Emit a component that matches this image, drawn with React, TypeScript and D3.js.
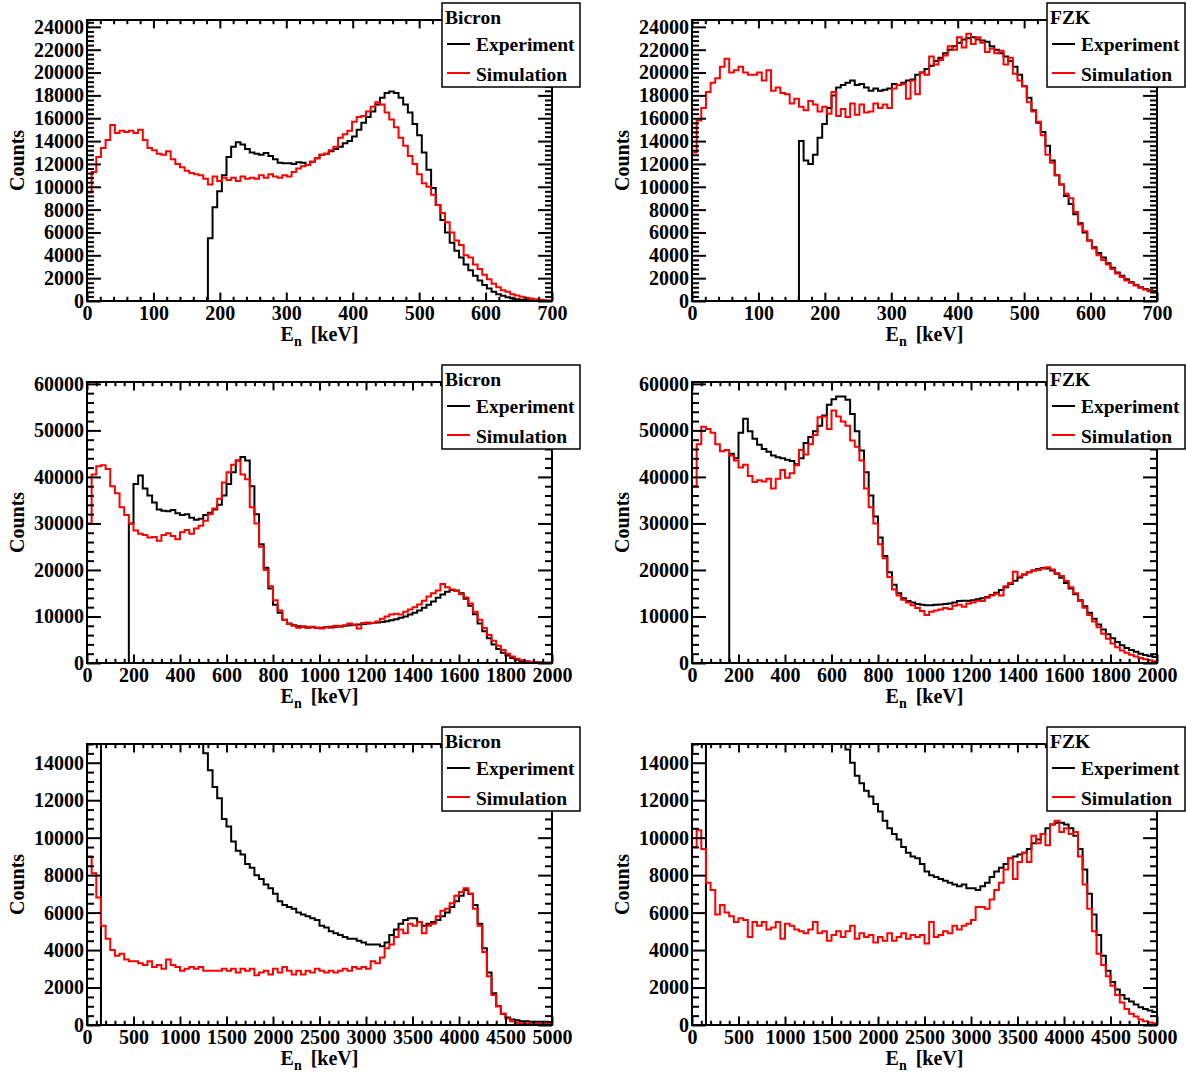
import React, { useEffect, useRef } from "react";
import * as d3 from "d3";

const WIDTH = 1186;
const HEIGHT = 1074;
const FRAME = { W: 465, H: 281 };
const COL_LEFT = [87, 692];
const ROW_TOP = [20, 382, 744];
const FONT = "'Liberation Serif', 'Times New Roman', Times, serif";

// tick labels
const xTicks700 = [0, 100, 200, 300, 400, 500, 600, 700];
const xTicks2000 = [0, 200, 400, 600, 800, 1000, 1200, 1400, 1600, 1800, 2000];
const xTicks5000 = [0, 500, 1000, 1500, 2000, 2500, 3000, 3500, 4000, 4500, 5000];
const yTicks24k = [0, 2000, 4000, 6000, 8000, 10000, 12000, 14000, 16000, 18000, 20000, 22000, 24000];
const yTicks60k = [0, 10000, 20000, 30000, 40000, 50000, 60000];
const yTicks15k = [0, 2000, 4000, 6000, 8000, 10000, 12000, 14000];

const detectors = ["Bicron", "FZK"];
const seriesLabels = ["Experiment", "Simulation"];
const seriesColors = ["#000000", "#ff0000"];

// counts per bin, 100 bins over the x range of each panel
const bicronExp700 = [
  0, 0, 0, 0, 0, 0, 0, 0, 0, 0,
  0, 0, 0, 0, 0, 0, 0, 0, 0, 0,
  0, 0, 0, 0, 0, 0, 5500, 8200, 9600, 11000,
  12600, 13500, 13900, 13700, 13300, 13000, 12900, 12800, 12950, 12700,
  12400, 12100, 12050, 12050, 12000, 12150, 12100, 11900, 12200, 12500,
  12800, 12900, 13100, 13300, 13500, 13800, 14000, 14400, 15000, 15600,
  16100, 16600, 17200, 17800, 18200, 18350, 18200, 17800, 17200, 16500,
  15500, 14500, 13000, 11500, 9900, 8400, 7100, 6000, 5100, 4400,
  3800, 3200, 2700, 2200, 1800, 1400, 1100, 800, 600, 450,
  330, 230, 160, 110, 80, 55, 40, 25, 15, 10,
];
const bicronSim700 = [
  9500, 11300, 12600, 13400, 14100, 15400, 14700, 14900, 14800, 14900,
  14700, 15000, 14100, 13400, 13200, 12900, 12800, 13100, 12400, 12000,
  11700, 11400, 11200, 11100, 11000, 10700, 10200, 10900, 10500, 10800,
  10600, 10800, 10500, 10900, 10700, 10800, 10700, 11000, 10800, 11100,
  10900, 10800, 11000, 10900, 11300, 11600, 11800, 11900, 12200, 12500,
  12800, 12900, 13200, 13500, 14300, 14600, 14900, 15700, 16100, 16200,
  16600, 17000, 17400, 17200, 16500, 15900, 15200, 14300, 13600, 12700,
  12000, 11100, 10300, 10000, 9300, 8400, 7700, 6900, 6000, 5300,
  4900, 4000, 3800, 3200, 2800, 2300, 1900, 1500, 1200, 950,
  800, 600, 480, 380, 280, 220, 160, 110, 70, 50,
];
const fzkExp700 = [
  0, 0, 0, 0, 0, 0, 0, 0, 0, 0,
  0, 0, 0, 0, 0, 0, 0, 0, 0, 0,
  0, 0, 0, 14000, 12300, 12000, 12800, 14300, 15500, 16900,
  18000, 18700, 18900, 19100, 19300, 18900, 19000, 18700, 18400, 18600,
  18400, 18500, 18600, 19000, 18900, 19100, 19300, 19400, 19800, 20000,
  20300, 20600, 21000, 21300, 21700, 22000, 22300, 22600, 22900, 23000,
  23100, 22900, 22800, 22700, 22300, 22000, 21700, 21400, 21000, 20500,
  19800, 18800, 17800, 16700, 15600, 14800, 13600, 12300, 11000, 10200,
  9200, 8500, 7600, 6800, 6000, 5300, 4700, 4200, 3800, 3300,
  2900, 2500, 2200, 1900, 1650, 1400, 1200, 1050, 950, 880,
];
const fzkSim700 = [
  13000, 15800, 16900, 18300, 19100, 19500, 20500, 21200, 20000, 20200,
  20500, 20000, 19800, 19800, 20000, 19300, 20200, 18400, 18700, 18200,
  18100, 17300, 17700, 17000, 16700, 17500, 17200, 16600, 17000, 16400,
  18300, 16200, 16800, 16100, 17300, 16300, 17200, 16500, 16600, 17300,
  16900, 17200, 16900, 18600, 18900, 19000, 17700, 19300, 18100, 20000,
  19800, 21400, 20700, 21100, 21500, 22300, 22000, 23100, 22200, 23400,
  22500, 23100, 22600, 21800, 22100, 21700, 21900, 20700, 21300, 19900,
  19300, 18800, 17400, 16600, 15700, 14500, 12800, 12100, 11000, 10200,
  9400, 9000, 7800, 6700, 6100, 5300, 4600, 4000, 3600, 3200,
  2800, 2400, 2100, 1800, 1600, 1350, 1150, 1000, 850, 750,
];
const bicronExp2000 = [
  0, 0, 0, 0, 0, 0, 0, 0, 0, 30000,
  38500, 40300, 37500, 36000, 34500, 33000, 32700, 32600, 32900, 32200,
  31800, 32000, 31200, 30800, 31000, 31800, 32300, 33000, 34000, 36000,
  38500, 41000, 43500, 44300, 43500, 38000, 32000, 25500, 20500, 16000,
  12500, 10800, 9300, 8500, 8100, 7900, 7800, 7700, 7700, 7600,
  7600, 7700, 7800, 7800, 7900, 8000, 8100, 8200, 8300, 8400,
  8500, 8600, 8700, 8800, 9000, 9200, 9400, 9700, 10000, 10400,
  10800, 11300, 11900, 12500, 13200, 14000, 14700, 15300, 15700, 15600,
  15000, 13800, 12300, 10500, 8500, 6800, 5300, 4000, 3000, 2200,
  1600, 1100, 700, 450, 300, 200, 130, 90, 60, 40,
];
const bicronSim2000 = [
  30000, 40500, 42300, 42500, 41700, 38000, 36500, 33500, 31800, 30000,
  28500, 27800, 27500, 27000, 27100, 26300, 27500, 27900, 27300, 26600,
  28100, 28600, 27800, 28900, 29500, 30600, 32000, 33200, 35300, 38800,
  41000, 42600, 43500, 40500, 39500, 33500, 30000, 25000, 20000, 16500,
  13500, 11300, 9300, 8400, 8000, 7600, 7900, 7500, 7800, 7600,
  7400, 7700, 7600, 8000, 7800, 8100, 8500, 8200, 7400, 8600,
  8700, 8600, 8900, 9500, 10000, 10400, 10600, 10400, 11000, 11500,
  12000, 12600, 13400, 14300, 15000, 15600, 17000, 16300, 15800, 15500,
  14800, 14100, 12800, 11000, 9300, 7500, 6000, 4800, 3700, 2800,
  2000, 1400, 900, 600, 400, 250, 150, 100, 60, 30,
];
const fzkExp2000 = [
  0, 0, 0, 0, 0, 0, 0, 0, 45000, 44000,
  49500, 52500, 49800, 48200, 46900, 46000, 45400, 44600, 44200, 44000,
  43700, 43400, 42700, 44000, 47300, 48600, 49800, 51000, 53200, 55500,
  56700, 57300, 57300, 56600, 53500, 49800, 45700, 41000, 36000, 31500,
  27000, 23000, 19500, 16800, 15000, 13900, 13300, 13000, 12700, 12500,
  12400, 12400, 12500, 12600, 12700, 12800, 13000, 13300, 13400, 13400,
  13500, 13700, 13900, 14200, 14600, 15100, 15700, 16300, 17000, 17700,
  18400, 19000, 19500, 19900, 20200, 20400, 20300, 19900, 19200, 18300,
  17200, 16000, 14800, 13500, 12200, 10800, 9500, 8300, 7200, 6200,
  5300, 4500, 3800, 3200, 2800, 2400, 2000, 1700, 1500, 1300,
];
const fzkSim2000 = [
  38000, 47000, 50800, 50300, 49500, 47000, 45500, 45800, 44600, 43500,
  42000, 42600, 40200, 38900, 39300, 39000, 39600, 37500, 39600, 41500,
  39800, 40800, 42500, 45800, 44800, 47000, 49000, 52800, 53000, 50300,
  54300, 53000, 51900, 51000, 47800, 46500, 43500, 37500, 33500, 30000,
  25500, 22500, 18500, 15800, 14500, 13600, 13000, 12400, 11800, 11200,
  10300, 11000, 11300, 11500, 11800, 11600, 12300, 12500, 12100, 12800,
  13000, 13400, 13300, 14000, 14500, 14900, 14500, 16500, 17200, 19600,
  18600, 19000, 19500, 19900, 20000, 20300, 20600, 20100, 19300, 18700,
  17600, 16300, 15000, 13300, 11900, 10300, 8900, 7700, 6300, 5200,
  4200, 3400, 2700, 2200, 1800, 1400, 1100, 800, 600, 350,
];
const bicronExp5000 = [
  0, 0, 0, 60000, 52000, 46000, 41000, 37000, 34000, 31500,
  29000, 27000, 25500, 24000, 22500, 21200, 20000, 19000, 18200, 17500,
  16900, 16300, 15800, 15400, 15100, 14500, 13600, 12700, 12100, 11000,
  10600, 9800, 9300, 9100, 8600, 8400, 8000, 7800, 7500, 7300,
  7000, 6600, 6400, 6300, 6200, 6000, 5900, 5800, 5700, 5600,
  5300, 5200, 5000, 4900, 4800, 4700, 4600, 4600, 4500, 4400,
  4300, 4300, 4300, 4200, 4400, 4800, 5100, 5400, 5600, 5700,
  5700, 5500, 5300, 5400, 5500, 5600, 5800, 6000, 6300, 6600,
  6900, 7200, 7000, 6400, 5400, 4100, 2800, 1700, 1000, 600,
  400, 300, 250, 200, 200, 180, 180, 170, 170, 160,
];
const bicronSim5000 = [
  9000, 8100, 6800, 5300, 4600, 4000, 3700, 3800, 3500, 3400,
  3400, 3300, 3200, 3400, 3100, 3200, 3000, 3500, 3200, 3100,
  2900, 3000, 3100, 3000, 3100, 2900, 2900, 2900, 2900, 3000,
  2900, 3000, 2800, 3000, 2900, 3000, 2650, 2800, 2900, 2700,
  3000, 2800, 3100, 2900, 2700, 2900, 2700, 2900, 2800, 3000,
  2900, 2800, 2900, 2800, 2900, 3000, 2900, 3100, 3000, 3100,
  3000, 3400, 3300, 3600, 4100, 4300, 4700, 5100, 4900, 5400,
  5300, 5500, 4900, 5300, 5400, 5800, 6100, 6200, 6500, 6900,
  7100, 7300, 7000, 6200, 5300, 3900, 2600, 1600, 1000, 600,
  350, 200, 120, 90, 80, 70, 60, 60, 50, 50,
];
const fzkExp5000 = [
  0, 0, 0, 90000, 80000, 72000, 65000, 59000, 54000, 49500,
  45500, 42000, 39000, 36300, 33900, 31700, 29700, 27900, 26300, 24800,
  23500, 22300, 21200, 20200, 19300, 18500, 17800, 17200, 16700, 16200,
  15800, 15500, 15200, 14700, 14000, 13300, 12900, 12500, 12200, 11800,
  11400, 10900, 10500, 10200, 9900, 9500, 9200, 9000, 8900, 8600,
  8200, 8000, 7900, 7800, 7700, 7600, 7500, 7400, 7500, 7300,
  7300, 7200, 7400, 7600, 7900, 8200, 8400, 8600, 8900, 9000,
  9100, 9200, 9400, 9700, 9900, 10200, 10500, 10700, 10800, 10800,
  10700, 10500, 10100, 9400, 8300, 7000, 5900, 4800, 3700, 2900,
  2300, 1900, 1600, 1400, 1250, 1100, 950, 850, 780, 700,
];
const fzkSim5000 = [
  9500, 10400, 9400, 7600, 7200, 5900, 6400, 6000, 5800, 5500,
  5700, 5600, 4700, 5500, 5300, 5500, 5100, 5200, 5500, 4600,
  5400, 5300, 5100, 5000, 4900, 5100, 5500, 4900, 5000, 4500,
  4800, 5000, 4700, 5000, 5300, 4600, 4900, 4700, 4800, 4400,
  4700, 4500, 4900, 4500, 4700, 4900, 4600, 4800, 4700, 4800,
  4350, 5500, 4700, 4800, 5000, 4900, 5300, 5100, 5300, 5400,
  5600, 6300, 6300, 6200, 6700, 7200, 7600, 8300, 8900, 7800,
  8700, 9200, 8700, 10100, 9700, 10200, 9600, 10700, 10900, 10300,
  10500, 10200, 10300, 9000, 7500, 6200, 5000, 3800, 3200, 2600,
  2100, 1600, 1200, 850, 600, 450, 300, 200, 130, 100,
];

const panels = [
  { row: 0, col: 0, xMax: 700, yMax: 24600, xTicks: xTicks700, xMinor: 20, yTicks: yTicks24k, yMinor: 400, series: [bicronExp700, bicronSim700] },
  { row: 0, col: 1, xMax: 700, yMax: 24600, xTicks: xTicks700, xMinor: 20, yTicks: yTicks24k, yMinor: 400, series: [fzkExp700, fzkSim700] },
  { row: 1, col: 0, xMax: 2000, yMax: 60400, xTicks: xTicks2000, xMinor: 40, yTicks: yTicks60k, yMinor: 2000, series: [bicronExp2000, bicronSim2000] },
  { row: 1, col: 1, xMax: 2000, yMax: 60400, xTicks: xTicks2000, xMinor: 40, yTicks: yTicks60k, yMinor: 2000, series: [fzkExp2000, fzkSim2000] },
  { row: 2, col: 0, xMax: 5000, yMax: 15000, xTicks: xTicks5000, xMinor: 100, yTicks: yTicks15k, yMinor: 500, series: [bicronExp5000, bicronSim5000] },
  { row: 2, col: 1, xMax: 5000, yMax: 15000, xTicks: xTicks5000, xMinor: 100, yTicks: yTicks15k, yMinor: 500, series: [fzkExp5000, fzkSim5000] },
];

const styleAxis = (sel: any) => {
  sel.select(".domain").remove();
  sel.selectAll("line").attr("stroke", "#000").attr("stroke-width", 2);
  sel
    .attr("font-family", FONT)
    .attr("font-size", 20)
    .attr("font-weight", "bold");
  sel.selectAll("text").attr("fill", "#000");
};

const minorTicks = (max: number, step: number, majors: number[]) =>
  d3.range(0, max + step / 2, step).filter((v) => !majors.includes(v));

function drawPanel(root: any, p: any, idx: number) {
  const g = root
    .append("g")
    .attr("transform", `translate(${COL_LEFT[p.col]},${ROW_TOP[p.row]})`);

  const x = d3.scaleLinear().domain([0, p.xMax]).range([0, FRAME.W]);
  const y = d3.scaleLinear().domain([0, p.yMax]).range([FRAME.H, 0]);

  const clipId = `frame-clip-${idx}`;
  g.append("clipPath")
    .attr("id", clipId)
    .append("rect")
    .attr("width", FRAME.W)
    .attr("height", FRAME.H);

  // histograms (experiment first, simulation on top)
  p.series.forEach((values: number[], k: number) => {
    const binWidth = p.xMax / values.length;
    const pts: [number, number][] = values.map((v, i) => [i * binWidth, v]);
    pts.push([p.xMax, values[values.length - 1]]);
    const line = d3
      .line<[number, number]>()
      .x((d) => x(d[0]))
      .y((d) => y(d[1]))
      .curve(d3.curveStepAfter);
    g.append("path")
      .attr("d", line(pts))
      .attr("fill", "none")
      .attr("stroke", seriesColors[k])
      .attr("stroke-width", 2)
      .attr("clip-path", `url(#${clipId})`);
  });

  // ROOT style ticks: 3% of the other axis, on all four sides
  const xLen = FRAME.H * 0.03;
  const yLen = FRAME.W * 0.03;
  const xMinorVals = minorTicks(p.xMax, p.xMinor, p.xTicks);
  const yMinorVals = minorTicks(p.yMax, p.yMinor, p.yTicks);
  const none = () => "";

  g.append("g")
    .attr("transform", `translate(0,${FRAME.H})`)
    .call(d3.axisBottom(x).tickValues(p.xTicks).tickSize(-xLen).tickPadding(5).tickFormat(d3.format("d")))
    .call(styleAxis);
  g.append("g")
    .attr("transform", `translate(0,${FRAME.H})`)
    .call(d3.axisBottom(x).tickValues(xMinorVals).tickSize(-xLen / 2).tickFormat(none))
    .call(styleAxis);
  g.append("g")
    .call(d3.axisTop(x).tickValues(p.xTicks).tickSize(-xLen).tickFormat(none))
    .call(styleAxis);
  g.append("g")
    .call(d3.axisTop(x).tickValues(xMinorVals).tickSize(-xLen / 2).tickFormat(none))
    .call(styleAxis);

  g.append("g")
    .call(d3.axisLeft(y).tickValues(p.yTicks).tickSize(-yLen).tickPadding(3).tickFormat(d3.format("d")))
    .call(styleAxis);
  g.append("g")
    .call(d3.axisLeft(y).tickValues(yMinorVals).tickSize(-yLen / 2).tickFormat(none))
    .call(styleAxis);
  g.append("g")
    .attr("transform", `translate(${FRAME.W},0)`)
    .call(d3.axisRight(y).tickValues(p.yTicks).tickSize(-yLen).tickFormat(none))
    .call(styleAxis);
  g.append("g")
    .attr("transform", `translate(${FRAME.W},0)`)
    .call(d3.axisRight(y).tickValues(yMinorVals).tickSize(-yLen / 2).tickFormat(none))
    .call(styleAxis);

  g.append("rect")
    .attr("width", FRAME.W)
    .attr("height", FRAME.H)
    .attr("fill", "none")
    .attr("stroke", "#000")
    .attr("stroke-width", 2);

  // axis titles
  g.append("text")
    .attr("transform", `translate(-63,${FRAME.H / 2}) rotate(-90)`)
    .attr("text-anchor", "middle")
    .attr("font-family", FONT)
    .attr("font-size", 20)
    .attr("font-weight", "bold")
    .text("Counts");

  const xt = g
    .append("text")
    .attr("x", FRAME.W / 2)
    .attr("y", FRAME.H + 40)
    .attr("text-anchor", "middle")
    .attr("font-family", FONT)
    .attr("font-size", 20)
    .attr("font-weight", "bold");
  xt.append("tspan").text("E");
  xt.append("tspan").attr("font-size", 14).attr("dy", 5).text("n");
  xt.append("tspan").attr("dy", -5).attr("dx", 4).text("\u00a0[keV]");

  // legend
  const lg = g.append("g").attr("transform", `translate(${FRAME.W - 110},-17)`);
  lg.append("rect")
    .attr("width", 138)
    .attr("height", 84)
    .attr("fill", "#fff")
    .attr("stroke", "#000")
    .attr("stroke-width", 1.5);
  const lgText = (sel: any) =>
    sel.attr("font-family", FONT).attr("font-size", 19.5).attr("font-weight", "bold");
  lg.append("text").attr("x", 3).attr("y", 21).text(detectors[p.col]).call(lgText);
  seriesLabels.forEach((label, k) => {
    lg.append("line")
      .attr("x1", 5)
      .attr("x2", 28)
      .attr("y1", 41 + 29 * k)
      .attr("y2", 41 + 29 * k)
      .attr("stroke", seriesColors[k])
      .attr("stroke-width", 2);
    lg.append("text").attr("x", 34).attr("y", 48 + 30 * k).text(label).call(lgText);
  });
}

export default function App() {
  const ref = useRef<SVGSVGElement>(null);

  useEffect(() => {
    const svg = d3.select(ref.current);
    svg.selectAll("*").remove();
    panels.forEach((p, i) => drawPanel(svg, p, i));
  }, []);

  return (
    <svg
      ref={ref}
      width={WIDTH}
      height={HEIGHT}
      style={{ position: "absolute", left: 0, top: 0, background: "#fff" }}
    />
  );
}
